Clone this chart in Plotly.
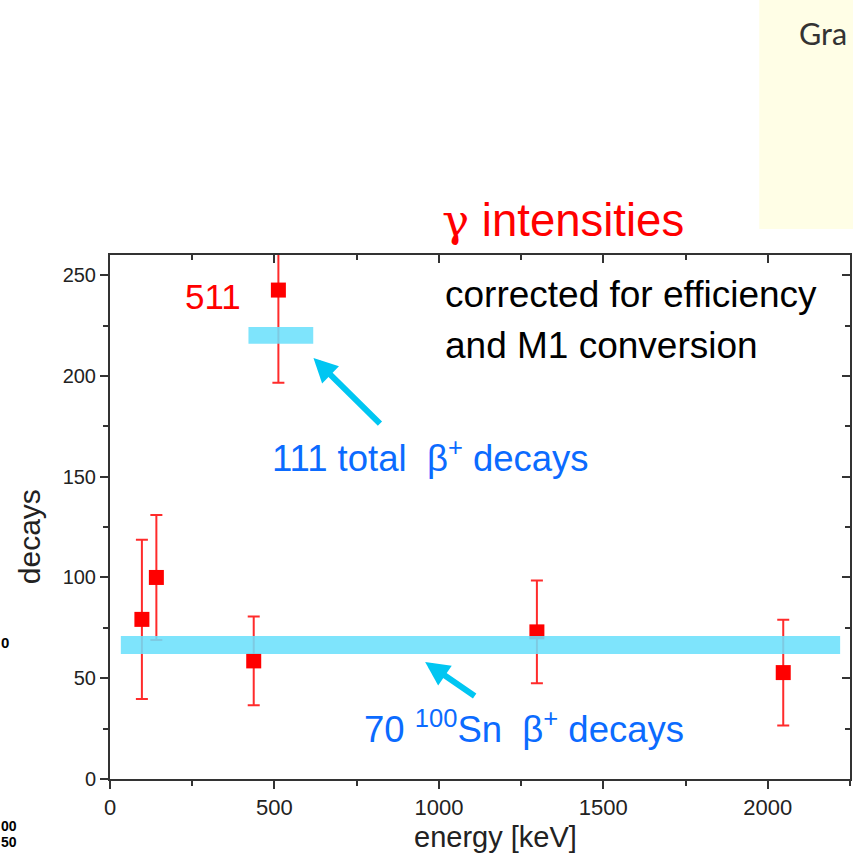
import plotly.graph_objects as go

# ---- data ----
energy = [97, 141, 437, 512, 1298, 2047]          # keV
intensity = [79.2, 100.0, 58.6, 242.6, 73.0, 52.8]  # decays
err = [39.5, 31.0, 22.0, 46.0, 25.5, 26.2]

# beta+ decay bands (x extent, y extent)
band_x0 = [33, 421]
band_x1 = [2220, 618]
band_y0 = [62.0, 216.0]
band_y1 = [71.0, 224.3]

x_ticks = [0, 500, 1000, 1500, 2000]
y_ticks = [0, 50, 100, 150, 200, 250]

# ---- geometry helpers (pixel -> axis units) ----
L, R, T, B = 110, 1, 255, 80
W, H = 853, 859
XR = [0, 2250]
YR = [0, 260]
pw = W - L - R
ph = H - T - B

def px2x(px):
    return (px - L) / pw * (XR[1] - XR[0]) + XR[0]

def py2y(py):
    return (T + ph - py) / ph * (YR[1] - YR[0]) + YR[0]

def px2paper(px):
    return (px - L) / pw

def py2paper(py):
    return (T + ph - py) / ph

FONT = "Liberation Sans, Arial, sans-serif"
RED = "#ff0000"
BLUE = "#0b6bff"
CYAN = "#00c6f2"

fig = go.Figure()

fig.add_trace(go.Scatter(
    x=energy, y=intensity, mode="markers",
    marker=dict(symbol="square", size=15, color=RED),
    error_y=dict(type="data", array=err, visible=True,
                 color="rgba(255,20,20,0.9)", thickness=2, width=6),
    showlegend=False, cliponaxis=True,
))
# empty trace to register the mirror axes
fig.add_trace(go.Scatter(x=[None], y=[None], xaxis="x2", yaxis="y2",
                         showlegend=False, hoverinfo="skip"))

shapes = []
for x0, x1, y0, y1 in zip(band_x0, band_x1, band_y0, band_y1):
    shapes.append(dict(type="rect", xref="x", yref="y", x0=x0, x1=x1, y0=y0, y1=y1,
                       fillcolor="rgb(108,224,252)", opacity=0.88,
                       line=dict(width=0), layer="above"))
# yellow panel at top right
shapes.append(dict(type="rect", xref="paper", yref="paper",
                   x0=px2paper(761), x1=px2paper(860), y0=py2paper(229), y1=py2paper(-5),
                   fillcolor="#fffee6", line=dict(width=0), layer="below"))

axis_common = dict(showgrid=False, zeroline=False, showline=True, linewidth=2,
                   linecolor="#333333", tickcolor="#333333", tickwidth=2, ticklen=8)

ann = []
def text(s, px, py, size, color, xanchor="left", family=FONT, **kw):
    ann.append(dict(text=s, xref="paper", yref="paper", x=px2paper(px), y=py2paper(py),
                    xanchor=xanchor, yanchor="middle", showarrow=False,
                    font=dict(family=family, size=size, color=color), **kw))

text("<span style='font-family:DejaVu Serif'>γ</span> intensities", 441, 221, 45.5, RED)
text("511", 213, 296, 35, RED, xanchor="center")
text("corrected for efficiency", 444, 294, 37, "#000000")
text("and M1 conversion", 444, 345, 37, "#000000")
text("111 total\u00a0\u00a0β<sup>+</sup> decays", 270, 456, 36.5, BLUE)
text("70 <sup>100</sup>Sn\u00a0\u00a0β<sup>+</sup> decays", 363, 727, 36.5, BLUE)
text("energy [keV]", 497, 837, 29, "#222222", xanchor="center")
text("decays", 29, 537, 30, "#222222", xanchor="center", textangle=-90)
text("Gra", 799, 33, 30.5, "#333333", family="Lato, Noto Sans, sans-serif")
# cropped fragments at the left edge
text("<b>0</b>", -1, 642, 15, "#000000")
text("<b>00</b>", -1, 826, 14, "#000000")
text("<b>50</b>", -1, 842, 14, "#000000")

# arrows
for tipx, tipy, ax, ay in [(314, 358, 68, 67), (426, 662, 51, 35)]:
    ann.append(dict(x=px2x(tipx), y=py2y(tipy), xref="x", yref="y",
                    ax=ax, ay=ay, showarrow=True, text="",
                    arrowhead=2, arrowsize=0.8, arrowwidth=6, arrowcolor=CYAN))

fig.update_layout(
    width=W, height=H,
    margin=dict(l=L, r=R, t=T, b=B, pad=0),
    paper_bgcolor="white", plot_bgcolor="white",
    shapes=shapes, annotations=ann,
    xaxis=dict(range=XR, tickvals=x_ticks, ticks="outside", mirror=True,
               tickfont=dict(family=FONT, size=22, color="#222222"),
               minor=dict(ticks="outside", dtick=250, tick0=0, ticklen=5,
                          tickwidth=2, tickcolor="#333333"),
               **axis_common),
    yaxis=dict(range=YR, tickvals=y_ticks, ticks="outside", mirror=True,
               tickfont=dict(family=FONT, size=20, color="#222222"),
               minor=dict(ticks="outside", dtick=25, tick0=0, ticklen=5,
                          tickwidth=2, tickcolor="#333333"),
               **axis_common),
    xaxis2=dict(range=XR, overlaying="x", side="top", anchor="y2", tickvals=x_ticks,
                ticks="inside", showticklabels=False,
                minor=dict(ticks="inside", dtick=250, tick0=0, ticklen=5,
                           tickwidth=2, tickcolor="#333333"),
                **axis_common),
    yaxis2=dict(range=YR, overlaying="y", side="right", anchor="x2", tickvals=y_ticks,
                ticks="inside", showticklabels=False,
                minor=dict(ticks="inside", dtick=25, tick0=0, ticklen=5,
                           tickwidth=2, tickcolor="#333333"),
                **axis_common),
)

fig.write_html("out.html")
